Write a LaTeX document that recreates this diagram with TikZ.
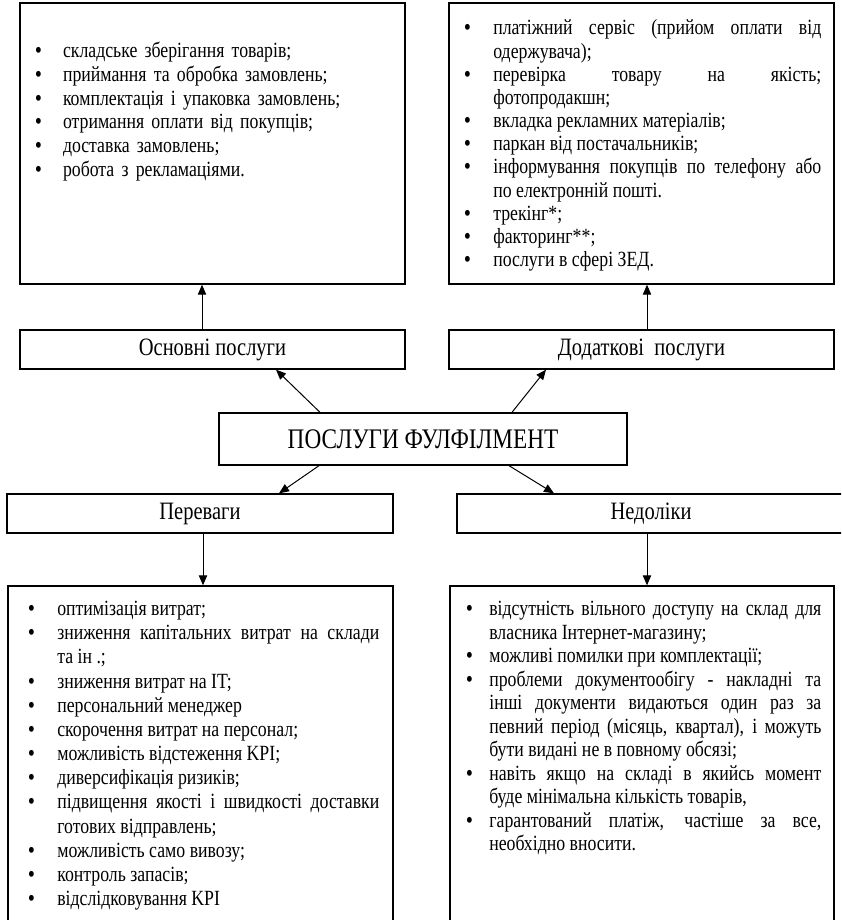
\documentclass[tikz,border=0pt]{standalone}
\usepackage{fontspec}
\setmainfont{Liberation Serif}[FakeStretch=0.82]
\usetikzlibrary{arrows.meta}
\newlength\bulwd
\newcommand\punkt[1]{\hangindent=\bulwd\hangafter=1\noindent\makebox[\bulwd][l]{\bfseries\textbullet}#1\par}
\begin{document}
\begin{tikzpicture}[x=0.6pt,y=-0.6pt,
  box/.style={draw,line width=0.8pt,inner sep=0pt},
  lbl/.style={box,font=\fontsize{15}{17}\selectfont},
  lst/.style={inner sep=0pt,anchor=base west,font=\fontsize{13}{14.1}\selectfont},
  conn/.style={line width=0.6pt,-{Triangle[length=6pt,width=5pt]}}]
\clip (0,0) rectangle (841,920);
\fill[white] (0,0) rectangle (841,920);

% upper boxes
\node[box,minimum width=231pt,minimum height=168.6pt] (osnbox) at (212.5,143.5) {};
\node[box,minimum width=231pt,minimum height=168.6pt] (dodbox) at (641.5,143.5) {};
\node[lst,text width=219pt,align=left,font=\fontsize{13}{14.2}\selectfont] (osnlist) at (35,58) {\setlength\bulwd{16.6pt}%
\punkt{складське зберігання товарів;}
\punkt{приймання та обробка замовлень;}
\punkt{комплектація і упаковка замовлень;}
\punkt{отримання оплати від покупців;}
\punkt{доставка замовлень;}
\punkt{робота з рекламаціями.}};
\node[lst,text width=214.2pt,align=justify,font=\fontsize{13}{13.9}\selectfont] (dodlist) at (464,35) {\setlength\bulwd{17.4pt}%
\punkt{платіжний сервіс (прийом оплати від\linebreak одержувача);}
\punkt{перевірка товару на якість;\linebreak фотопродакшн;}
\punkt{вкладка рекламних матеріалів;}
\punkt{паркан від постачальників;}
\punkt{інформування покупців по телефону або\linebreak по електронній пошті.}
\punkt{трекінг*;}
\punkt{факторинг**;}
\punkt{послуги в сфері ЗЕД.}};

% middle
\node[lbl,minimum width=231pt,minimum height=23.4pt] (osn) at (212.5,349.5) {Основні послуги};
\node[lbl,minimum width=231pt,minimum height=23.4pt] (dod) at (641.5,349.5) {Додаткові~ послуги};
\node[box,minimum width=244.8pt,minimum height=31.2pt,font=\fontsize{17}{19}\selectfont] (title) at (423,439) {ПОСЛУГИ ФУЛФІЛМЕНТ};
\node[lbl,minimum width=231.6pt,minimum height=23.4pt] (perev) at (200,513.5) {Переваги};
\node[lbl,minimum width=232.8pt,minimum height=23.4pt] (nedol) at (651,513.5) {Недоліки};

% lower boxes
\node[box,minimum width=231pt,minimum height=212.4pt] (perevbox) at (200.5,763) {};
\node[box,minimum width=230.4pt,minimum height=212.4pt] (nedolbox) at (642,763) {};
\node[lst,text width=210.6pt,align=justify,font=\fontsize{13}{14.5}\selectfont] (perevlist) at (28,615.5) {\setlength\bulwd{17.4pt}%
\punkt{оптимізація витрат;}
\punkt{зниження капітальних витрат на склади\linebreak та ін .;}
\punkt{зниження витрат на IT;}
\punkt{персональний менеджер}
\punkt{скорочення витрат на персонал;}
\punkt{можливість відстеження KPI;}
\punkt{диверсифікація ризиків;}
\punkt{підвищення якості і швидкості доставки\linebreak готових відправлень;}
\punkt{можливість само вивозу;}
\punkt{контроль запасів;}
\punkt{відслідковування KPI}};
\node[lst,text width=213pt,align=justify] (nedollist) at (466,615.5) {\setlength\bulwd{13.8pt}%
\punkt{відсутність вільного доступу на склад для\linebreak власника Інтернет-магазину;}
\punkt{можливі помилки при комплектації;}
\punkt{проблеми документообігу - накладні та\linebreak інші документи видаються один раз за\linebreak певний період (місяць, квартал), і можуть\linebreak бути видані не в повному обсязі;}
\punkt{навіть якщо на складі в якийсь момент\linebreak буде мінімальна кількість товарів,}
\punkt{гарантований платіж, частіше за все,\linebreak необхідно вносити.}};

% arrows
\draw[conn] ([xshift=-6.3pt]osn.north) -- ([xshift=-6.3pt]osn.north |- osnbox.south);
\draw[conn] ([xshift=3.3pt]dod.north) -- ([xshift=3.3pt]dod.north |- dodbox.south);
\draw[conn] ([xshift=-61.8pt]title.north) -- ([xshift=38.1pt]osn.south);
\draw[conn] ([xshift=53.4pt]title.north) -- ([xshift=-57.3pt]dod.south);
\draw[conn] ([xshift=-62.4pt]title.south) -- ([xshift=47.4pt]perev.north);
\draw[conn] ([xshift=51.6pt]title.south) -- ([xshift=-58.2pt]nedol.north);
\draw[conn] ([xshift=1.8pt]perev.south) -- ([xshift=1.8pt]perev.south |- perevbox.north);
\draw[conn] ([xshift=-2.4pt]nedol.south) -- ([xshift=-2.4pt]nedol.south |- nedolbox.north);
\end{tikzpicture}
\end{document}
